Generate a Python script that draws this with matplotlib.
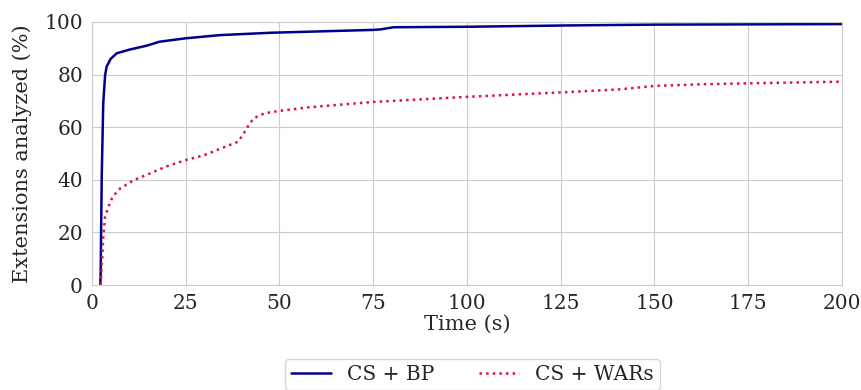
import matplotlib
matplotlib.use("Agg")
import matplotlib.pyplot as plt
import seaborn as sns

# time (s) vs cumulative share of extensions analyzed
bp_time = [2.2, 2.3, 2.6, 3.0, 3.5, 3.9, 5.0, 6.6, 10, 14.6, 18, 25, 34, 47.5, 60, 75, 77, 80.4, 100.8, 127.5, 150, 200]
bp_pct = [0, 3, 41, 69, 79.8, 83, 86, 88.1, 89.5, 91.0, 92.5, 93.8, 95.0, 95.9, 96.4, 97.0, 97.2, 98.0, 98.2, 98.7, 99.0, 99.2]

wars_time = [2.3, 2.7, 3.0, 3.5, 4.4, 5.5, 7.6, 11.2, 15.6, 19.7, 25, 30, 35.6, 39, 40.5, 41.8, 43.1, 46, 50,
             58, 75, 100.8, 127.5, 140.8, 150.1, 162, 175.5, 199.5]
wars_pct = [0, 9.5, 18, 26, 29.8, 33.6, 36.8, 39.9, 42.5, 45, 47.5, 49.4, 52.6, 54.5, 57.7, 60.8, 63.4, 65.3, 66.2,
            67.6, 69.6, 71.6, 73.4, 74.4, 75.7, 76.3, 76.7, 77.3]

sns.set_style("whitegrid")
plt.rcParams["font.family"] = ["DejaVu Serif"]

fig = plt.figure(figsize=(8.62, 3.9), dpi=100)
ax = fig.add_axes([0.1067, 0.2692, 0.8701, 0.6744])

ax.plot(bp_time, bp_pct, color="#00008B", linewidth=1.8, label="CS + BP")
ax.plot(wars_time, wars_pct, color="#DC143C", linewidth=1.8, linestyle=":", label="CS + WARs")

ax.set_xlim(0, 200)
ax.set_ylim(0, 100)
ax.set_xticks([0, 25, 50, 75, 100, 125, 150, 175, 200])
ax.set_yticks([0, 20, 40, 60, 80, 100])
ax.tick_params(labelsize=14.5, pad=3)
ax.set_xlabel("Time (s)", fontsize=15, labelpad=1)
ax.set_ylabel("Extensions analyzed (%)", fontsize=15, labelpad=9)

fig.legend(loc="upper center", bbox_to_anchor=(0.548, 0.079), ncol=2, fontsize=14.5,
           frameon=True, columnspacing=2.2, handlelength=2.0, borderpad=0.3, borderaxespad=0)

fig.savefig("out.png", dpi=100)
